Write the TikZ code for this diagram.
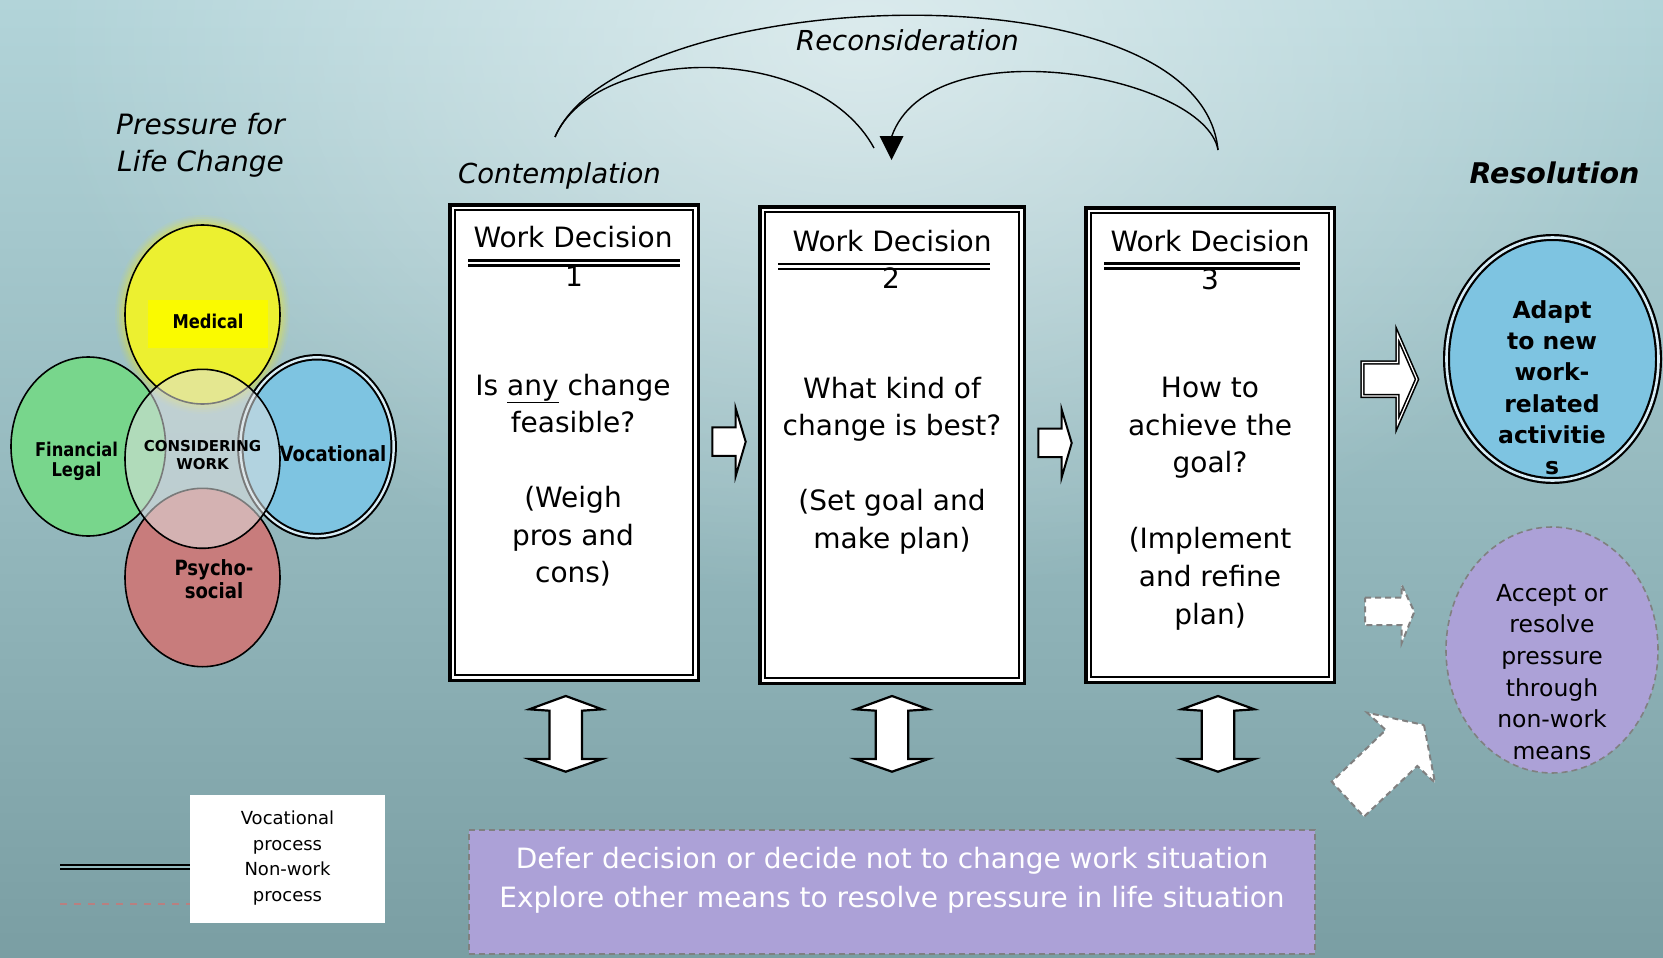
\documentclass[tikz,border=0pt]{standalone}
\usepackage{fontspec}
\setmainfont{DejaVu Sans}
\newfontfamily\narrowsans[FakeStretch=0.86]{DejaVu Sans}
\usetikzlibrary{calc,fadings}

\definecolor{bgtop}{RGB}{178,212,217}
\definecolor{bgmid}{RGB}{150,186,191}
\definecolor{bgbot}{RGB}{122,158,163}
\definecolor{medyellow}{RGB}{236,240,48}
\definecolor{medhi}{RGB}{250,250,0}
\definecolor{fingreen}{RGB}{120,214,140}
\definecolor{vocblue}{RGB}{126,196,225}
\definecolor{psyred}{RGB}{200,124,124}
\definecolor{coregrey}{RGB}{222,224,224}
\definecolor{lavender}{RGB}{172,161,215}
\definecolor{dashgrey}{RGB}{128,128,128}
\definecolor{legendpink}{RGB}{184,128,128}

\tikzfading[name=topglow, inner color=transparent!45, outer color=transparent!100]

\tikzset{
  blockarrow/.style={draw=black, line width=2pt, fill=white, line join=miter, miter limit=12},
  dasharrow/.style={draw=dashgrey, line width=2pt, dash pattern=on 6pt off 4pt, fill=white},
  pics/rightblock/.style={code={
    \draw[blockarrow] (-16.6,-14.4) -- (6.7,-14.4) -- (6.7,-33.4) -- (16.7,0)
      -- (6.7,34.3) -- (6.7,14) -- (-16.6,14) -- cycle;}},
  pics/updown/.style={code={
    \draw[blockarrow, line width=2.2pt] (0,-38) -- (36.4,-24.7) -- (16.2,-23.3) -- (16.2,25)
      -- (36.4,25) -- (0,37.7) -- (-36.4,25) -- (-16.2,25) -- (-16.2,-23.3)
      -- (-36.4,-24.7) -- cycle;}},
}

\begin{document}
\begin{tikzpicture}[x=1pt, y=-1pt,
  txt/.style={inner sep=0pt, anchor=base},
  block/.style={inner sep=0pt, anchor=north, align=center},
  wdbox/.style={draw=black, line width=3.5pt, fill=white, inner sep=0pt},
  venn/.style={draw=black, line width=1.6pt},
  recon/.style={draw=black, line width=1.4pt},
  bodyfont/.style={font=\fontsize{28pt}{37.5pt}\selectfont},
  vennfont/.style={font=\narrowsans\bfseries\fontsize{#1}{#1}\selectfont},
]
% ---------- background ----------
\path[use as bounding box] (0,0) rectangle (1663,958);
\shade[top color=bgtop, bottom color=bgbot, middle color=bgmid] (0,0) rectangle (1663,958);
\fill[white, path fading=topglow] (860,40) ellipse [x radius=820pt, y radius=560pt];

% ---------- life-change circles ----------
\foreach \k/\o in {10/0.05,8/0.07,6/0.09,4/0.11,2/0.13}
  \fill[yellow, opacity=\o] (202.5,314.5) ellipse [x radius={77.5pt+\k pt}, y radius={89.5pt+\k pt}];
\draw[venn, fill=medyellow] (202.5,314.5) ellipse [x radius=77.5pt, y radius=89.5pt];
\fill[medhi] (148,300) rectangle (268,348);
\draw[venn, fill=fingreen] (88.3,446.5) ellipse [x radius=77.3pt, y radius=89.5pt];
\draw[black, line width=2pt, double=white!70!vocblue, double distance=2.4pt, fill=vocblue]
  (317,446.7) ellipse [x radius=76.7pt, y radius=89.4pt];
\draw[venn, fill=psyred] (202.5,577.5) ellipse [x radius=77.5pt, y radius=89.2pt];
\draw[venn, fill=coregrey, fill opacity=0.55] (202.5,458.8) ellipse [x radius=77.5pt, y radius=89.5pt];

\node[txt, vennfont=19pt] (medtxt) at (208,328) {Medical};
\node[block, font=\narrowsans\bfseries\fontsize{19pt}{20pt}\selectfont] (fintxt) at (76.5,456-15.2) {\rule{0pt}{15.2pt}Financial\\Legal};
\node[block, font=\bfseries\fontsize{15pt}{17.6pt}\selectfont] (coretxt) at (202.5,451.7-12) {\rule{0pt}{12pt}CONSIDERING\\WORK};
\node[txt, vennfont=21pt] (voctxt) at (333,461.7) {Vocational};
\node[block, font=\narrowsans\bfseries\fontsize{21pt}{23.5pt}\selectfont] (psytxt) at (214,575-16.8) {\rule{0pt}{16.8pt}Psycho-\\social};

\node[block, font=\itshape\fontsize{28pt}{37pt}\selectfont] (pressure) at (200.5,134-22.4) {\rule{0pt}{22.4pt}Pressure for\\Life Change};

% ---------- stage labels ----------
\node[txt, font=\itshape\fontsize{27.5pt}{27.5pt}\selectfont] (contempl) at (559.5,183) {Contemplation};
\node[txt, font=\itshape\fontsize{27.5pt}{27.5pt}\selectfont] (recons) at (907.5,51) {Reconsideration};
\node[txt, font=\bfseries\itshape\fontsize{28.5pt}{28.5pt}\selectfont] (resol) at (1554.5,183.5) {Resolution};

% ---------- decision boxes ----------
\node[wdbox, minimum width=248.5pt, minimum height=475.5pt] (box1) at (574,442.5) {};
\node[wdbox, minimum width=264.5pt, minimum height=476.5pt] (box2) at (892,445) {};
\node[wdbox, minimum width=248.5pt, minimum height=474.5pt] (box3) at (1210,445) {};
\foreach \b in {box1,box2,box3}
  \draw[line width=2pt] ($(\b.north west)+(6.8,6.8)$) rectangle ($(\b.south east)+(-6.8,-6.8)$);

\node[txt, font=\fontsize{28pt}{28pt}\selectfont] (h1) at (573,247) {Work Decision};
\node[txt, font=\fontsize{28pt}{28pt}\selectfont] (n1) at (574,286) {1};
\node[txt, font=\fontsize{28pt}{28pt}\selectfont] (h2) at (892,251) {Work Decision};
\node[txt, font=\fontsize{28pt}{28pt}\selectfont] (n2) at (891,288) {2};
\node[txt, font=\fontsize{28pt}{28pt}\selectfont] (h3) at (1210,251) {Work Decision};
\node[txt, font=\fontsize{28pt}{28pt}\selectfont] (n3) at (1210,289) {3};
\draw[line width=2.4pt] (468,260.5) -- (680,260.5) (468,265.5) -- (680,265.5);
\draw[line width=2.4pt] (778,264) -- (990,264) (778,268.7) -- (990,268.7);
\draw[line width=2.4pt] (1104,263.5) -- (1300,263.5) (1104,268.5) -- (1300,268.5);

\node[block, bodyfont] (q1) at (573,395-22.4)
  {\rule{0pt}{22.4pt}Is \underline{any} change\\feasible?\\[37.5pt](Weigh\\pros and\\cons)};
\node[block, bodyfont] (q2) at (892,398-22.4)
  {\rule{0pt}{22.4pt}What kind of\\change is best?\\[37.5pt](Set goal and\\make plan)};
\node[block, font=\fontsize{28pt}{37.8pt}\selectfont] (q3) at (1210,397-22.4)
  {\rule{0pt}{22.4pt}How to\\achieve the\\goal?\\[37.8pt](Implement\\and refine\\plan)};

% ---------- arrows between decisions ----------
\coordinate (m12) at ($(box1.east)!0.5!(box2.west)$);
\coordinate (m23) at ($(box2.east)!0.5!(box3.west)$);
\pic at ($(m12)+(0,-2)$) {rightblock};
\pic at ($(m23)+(0,-2)$) {rightblock};

% ---------- reconsideration loops ----------
\coordinate (recA) at (555,137);
\coordinate (recB) at (874,148);
\coordinate (recC) at (1218,150);
\coordinate (recD) at (891.5,137);
\draw[recon] (recA) .. controls (620,-15) and (1200,-40) .. (recC);
\draw[recon] (recA) .. controls (595,45) and (815,40) .. (recB);
\draw[recon] (recC) .. controls (1205,75) and (930,25) .. (recD);
\fill[black] ($(recD)+(-12,-1)$) -- ($(recD)+(12,-1)$) -- ($(recD)+(0,23)$) -- cycle;

% ---------- links to the deferral bar ----------
\pic at (565.7,734) {updown};
\pic at (892,734) {updown};
\pic at (1218,734) {updown};

\node[draw=dashgrey, line width=1.6pt, dash pattern=on 6pt off 4pt, fill=lavender,
  minimum width=846pt, minimum height=124pt, inner sep=0pt] (defer) at (892,892) {};
\node[block, text=white, font=\fontsize{28pt}{39pt}\selectfont] (defertxt) at (892,868-22.4)
  {\rule{0pt}{22.4pt}Defer decision or decide not to change work situation\\Explore other means to resolve pressure in life situation};

% ---------- resolution ----------
\draw[black, line width=2.2pt, double=white!70!vocblue, double distance=2.6pt, fill=vocblue]
  (1552.5,359) ellipse [x radius=106pt, y radius=121.5pt];
\node[block, font=\bfseries\fontsize{23.5pt}{31.3pt}\selectfont] (adapttxt) at (1552,318-18.8)
  {\rule{0pt}{18.8pt}Adapt\\to new\\work-\\related\\activitie\\s};

\draw[draw=dashgrey, line width=1.6pt, dash pattern=on 6pt off 4pt, fill=lavender]
  (1552,650) ellipse [x radius=106pt, y radius=123pt];
\node[block, font=\fontsize{23.5pt}{31.6pt}\selectfont] (accepttxt) at (1552,601-18.8)
  {\rule{0pt}{18.8pt}Accept or\\resolve\\pressure\\through\\non-work\\means};

\draw[black, line width=1.6pt, double=white, double distance=1.2pt, fill=white, line join=miter]
  (1362.5,362.5) -- (1397.5,362.5) -- (1397.5,334.5) -- (1417,379.3) -- (1397.5,424)
  -- (1397.5,396) -- (1362.5,396) -- cycle;
\draw[dasharrow] (1365,597.7) -- (1401.7,597.7) -- (1401.7,585) -- (1414.3,611.7)
  -- (1401.7,643) -- (1401.7,625) -- (1365,625) -- cycle;
\draw[dasharrow] (1424,725) -- (1435,782.7) -- (1417.3,766) -- (1364,816.7)
  -- (1331.7,781.7) -- (1385.7,730) -- (1367.3,712.7) -- cycle;

% ---------- legend ----------
\node[fill=white, minimum width=195pt, minimum height=128pt, inner sep=0pt] (legend) at (287.5,859) {};
\node[block, font=\fontsize{18pt}{25.8pt}\selectfont] (legendtxt) at (287.5,824-14.4)
  {\rule{0pt}{14.4pt}Vocational\\process\\Non-work\\process};
\coordinate (lgA) at (60,866.8);
\coordinate (lgB) at (60,904.3);
\draw[black, line width=2pt, double=bgmid, double distance=1.6pt] (lgA) -- (lgA -| legend.west);
\draw[legendpink, line width=1.8pt, dash pattern=on 7pt off 7pt] (lgB) -- (lgB -| legend.west);
\end{tikzpicture}
\end{document}
